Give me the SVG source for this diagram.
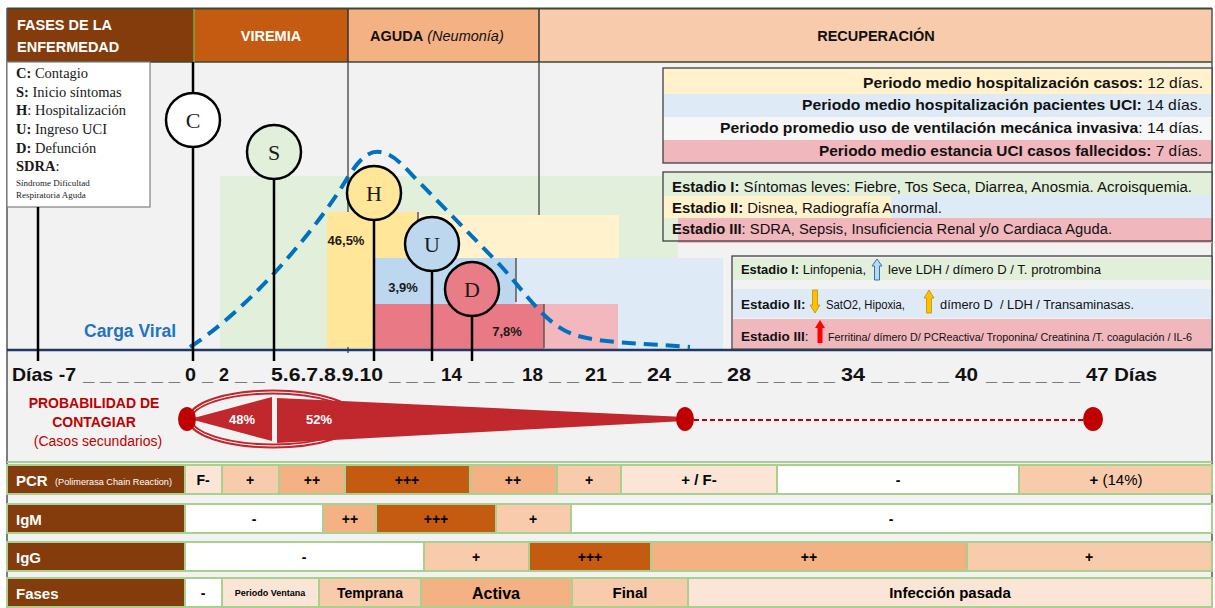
<svg xmlns="http://www.w3.org/2000/svg" width="1215" height="608" viewBox="0 0 1215 608">
<defs>
<style>
.t{font-family:"Liberation Sans",Arial,sans-serif}
.b{font-weight:bold}
.sf{font-family:"Liberation Serif","Times New Roman",serif}
.lab{fill:#843c0c}
.c1{fill:#fbe5d6}.c2{fill:#f8cbad}.c3{fill:#f4b183}.c4{fill:#c55a11}.cw{fill:#ffffff}
.cell{stroke:#a9d18e;stroke-width:2}
.ct{font-family:"Liberation Sans",Arial,sans-serif;font-weight:bold;text-anchor:middle;fill:#000}
.lt{font-family:"Liberation Sans",Arial,sans-serif;font-weight:bold;font-size:15px;fill:#fff}
.node{stroke:#000;stroke-width:2.5}
.nl{font-family:"Liberation Serif","Times New Roman",serif;font-size:22px;text-anchor:middle;fill:#1a1a1a}
.vl{stroke:#000;stroke-width:2.5}
.gl{stroke:#595959;stroke-width:1.5}
.ax{font-family:"Liberation Sans",Arial,sans-serif;font-weight:bold;font-size:19px;fill:#111}
.hb{stroke:#404040;stroke-width:1.3;fill:none}
.red{fill:#c00000}
</style>
</defs>
<rect x="0" y="0" width="1215" height="608" fill="#ffffff"/>
<rect x="7" y="8" width="1205" height="600" fill="#f2f2f2"/>

<!-- header -->
<g id="header">
<rect x="7" y="9" width="187" height="53" fill="#843c0c"/>
<rect x="194" y="9" width="154" height="53" fill="#c55a11"/>
<rect x="348" y="9" width="191" height="53" fill="#f4b183"/>
<rect x="539" y="9" width="673" height="53" fill="#f8cbad"/>
<line x1="7" y1="8.5" x2="1212" y2="8.5" stroke="#3a4a30" stroke-width="2"/>
<line x1="7" y1="62" x2="1212" y2="62" stroke="#3a4a30" stroke-width="1.5"/>
<line x1="194" y1="9" x2="194" y2="62" stroke="#70ad47" stroke-width="1.5"/>
<line x1="348" y1="9" x2="348" y2="62" stroke="#333" stroke-width="1.5"/>
<line x1="539" y1="9" x2="539" y2="62" stroke="#333" stroke-width="1.5"/>
<text class="t b" x="17" y="30" font-size="14.5" fill="#fff">FASES DE LA</text>
<text class="t b" x="17" y="52" font-size="14.5" fill="#fff">ENFERMEDAD</text>
<text class="t b" x="271" y="41" font-size="14.5" fill="#fff" text-anchor="middle">VIREMIA</text>
<text class="t" x="370" y="41" font-size="14.5" fill="#111"><tspan font-weight="bold">AGUDA</tspan> <tspan font-style="italic">(Neumonía)</tspan></text>
<text class="t b" x="876" y="41" font-size="14.5" fill="#111" text-anchor="middle">RECUPERACIÓN</text>
</g>
<line x1="7" y1="8" x2="7" y2="608" stroke="#555" stroke-width="1.5"/>
<line x1="1212" y1="8" x2="1212" y2="608" stroke="#555" stroke-width="1.5"/>

<!-- legend -->
<g id="legend">
<rect x="7" y="62" width="143" height="145" fill="#ffffff" stroke="#7f7f7f" stroke-width="1.2"/>
<g class="sf" font-size="14.5" fill="#1a1a1a">
<text x="16" y="78"><tspan font-weight="bold">C:</tspan> Contagio</text>
<text x="16" y="97"><tspan font-weight="bold">S:</tspan> Inicio síntomas</text>
<text x="16" y="115"><tspan font-weight="bold">H</tspan>: Hospitalización</text>
<text x="16" y="134"><tspan font-weight="bold">U:</tspan> Ingreso UCI</text>
<text x="16" y="153"><tspan font-weight="bold">D:</tspan> Defunción</text>
<text x="16" y="171"><tspan font-weight="bold">SDRA</tspan>:</text>
<text x="16" y="186" font-size="9">Síndrome Dificultad</text>
<text x="16" y="198" font-size="9">Respiratoria Aguda</text>
</g>
</g>

<!-- phase regions -->
<g id="regions">
<rect x="220" y="176" width="458" height="174" fill="#e2efda"/>
<rect x="516" y="258" width="207" height="92" fill="#deebf7"/>
<rect x="418" y="215" width="201" height="43" fill="#fff2cc"/>
<rect x="327" y="212" width="91" height="46" fill="#ffe699"/>
<rect x="327" y="258" width="48" height="90" fill="#ffe699"/>
<rect x="375" y="258" width="141" height="46" fill="#bdd7ee"/>
<rect x="375" y="304" width="169" height="46" fill="#e97a85"/>
<rect x="544" y="304" width="74" height="45" fill="#f2b8bd"/>
<line class="gl" x1="348" y1="62" x2="348" y2="212"/>
<line class="gl" x1="348" y1="347" x2="348" y2="353"/>
<line class="gl" x1="539" y1="62" x2="539" y2="215"/>
<line class="gl" x1="418" y1="212" x2="418" y2="230"/>
<line class="gl" x1="516" y1="258" x2="516" y2="302"/>
<line class="gl" x1="544" y1="304" x2="544" y2="348"/>
<text class="t b" x="346" y="245" font-size="13" text-anchor="middle" fill="#1a1a1a">46,5%</text>
<text class="t b" x="403" y="292" font-size="13" text-anchor="middle" fill="#1a1a1a">3,9%</text>
<text class="t b" x="507" y="336" font-size="13" text-anchor="middle" fill="#1a1a1a">7,8%</text>
</g>

<!-- viral load curve -->
<g id="curve">
<path d="M190,347 C240,315 300,250 340,190 C355,165 365,150 380,152 C395,154 405,168 420,183 L500,265 C525,292 545,325 575,335 C600,343 640,343 690,347" fill="none" stroke="#0070c0" stroke-width="4" stroke-dasharray="14 8"/>
<text class="t b" x="84" y="337" font-size="17.5" fill="#1f74c2">Carga Viral</text>
</g>

<!-- axis line -->
<line x1="7" y1="350" x2="1212" y2="350" stroke="#1f3864" stroke-width="2.5"/>

<!-- connectors -->
<g id="connectors">
<line class="vl" x1="38" y1="207" x2="38" y2="361"/>
<line class="vl" x1="193" y1="62" x2="193" y2="361"/>
<line class="vl" x1="274" y1="179" x2="274" y2="361"/>
<line class="vl" x1="374" y1="220" x2="374" y2="361"/>
<line class="vl" x1="432" y1="271" x2="432" y2="361"/>
<line class="vl" x1="472" y1="316" x2="472" y2="361"/>
</g>

<!-- nodes -->
<g id="node-C"><circle class="node" cx="193" cy="120" r="27" fill="#ffffff"/><text class="nl" x="193" y="128">C</text></g>
<g id="node-S"><circle class="node" cx="274" cy="152" r="27" fill="#e2efda"/><text class="nl" x="274" y="160">S</text></g>
<g id="node-H"><circle class="node" cx="374" cy="193" r="27" fill="#ffe699"/><text class="nl" x="374" y="201">H</text></g>
<g id="node-U"><circle class="node" cx="432" cy="244" r="27" fill="#bdd7ee"/><text class="nl" x="432" y="252">U</text></g>
<g id="node-D"><circle class="node" cx="472" cy="289" r="27" fill="#e97d87"/><text class="nl" x="472" y="297">D</text></g>

<!-- box periods -->
<g id="box-periodos">
<rect x="663" y="68" width="549" height="26" fill="#fff2cc"/>
<rect x="663" y="94" width="549" height="23" fill="#deebf7"/>
<rect x="663" y="117" width="549" height="23" fill="#f7f7f7"/>
<rect x="663" y="140" width="549" height="23" fill="#f0b7bd"/>
<rect class="hb" x="663" y="68" width="549" height="95"/>
<g class="t" font-size="15" fill="#111">
<text x="863" y="88" textLength="340" lengthAdjust="spacingAndGlyphs"><tspan font-weight="bold">Periodo medio hospitalización casos:</tspan> 12 días.</text>
<text x="802" y="110" textLength="400" lengthAdjust="spacingAndGlyphs"><tspan font-weight="bold">Periodo medio hospitalización pacientes UCI:</tspan> 14 días.</text>
<text x="720" y="133" textLength="483" lengthAdjust="spacingAndGlyphs"><tspan font-weight="bold">Periodo promedio uso de ventilación mecánica invasiva</tspan>: 14 días.</text>
<text x="819" y="156" textLength="383" lengthAdjust="spacingAndGlyphs"><tspan font-weight="bold">Periodo medio estancia UCI casos fallecidos:</tspan> 7 días.</text>
</g>
</g>

<!-- box estadios clinicos -->
<g id="box-estadios">
<rect x="663" y="172" width="549" height="70" fill="#e2efda"/>
<rect x="663" y="196" width="228" height="22" fill="#fff2cc"/>
<rect x="891" y="195" width="321" height="23" fill="#deebf7"/>
<rect x="678" y="218" width="534" height="25" fill="#f0b7bd"/>
<rect class="hb" x="663" y="172" width="549" height="69"/>
<g class="t" font-size="14" fill="#111">
<text x="672" y="192" textLength="520" lengthAdjust="spacingAndGlyphs"><tspan font-weight="bold">Estadio I:</tspan> Síntomas leves: Fiebre, Tos Seca, Diarrea, Anosmia. Acroisquemia.</text>
<text x="672" y="213" textLength="270" lengthAdjust="spacingAndGlyphs"><tspan font-weight="bold">Estadio II:</tspan> Disnea, Radiografía Anormal.</text>
<text x="672" y="234" textLength="440" lengthAdjust="spacingAndGlyphs"><tspan font-weight="bold">Estadio III</tspan>: SDRA, Sepsis, Insuficiencia Renal y/o Cardiaca Aguda.</text>
</g>
</g>

<!-- box estadios laboratorio -->
<g id="box-laboratorio">
<rect x="732" y="256" width="480" height="93" fill="#f2f2f2"/>
<rect x="733" y="258" width="478" height="22" fill="#e2efda"/>
<rect x="733" y="289" width="478" height="29" fill="#deebf7"/>
<rect x="733" y="319" width="478" height="29" fill="#f0b7bd"/>
<rect class="hb" x="732" y="256" width="480" height="93"/>
<g class="t" fill="#111">
<text x="741" y="274" font-size="13" textLength="125" lengthAdjust="spacingAndGlyphs"><tspan font-weight="bold">Estadio I:</tspan> Linfopenia,</text>
<text x="888" y="274" font-size="13" textLength="213" lengthAdjust="spacingAndGlyphs">leve LDH / dímero D / T. protrombina</text>
<text x="741" y="309" font-size="13.5" font-weight="bold">Estadio II:</text>
<text x="826" y="309" font-size="12" textLength="79" lengthAdjust="spacingAndGlyphs">SatO2, Hipoxia,</text>
<text x="940" y="309" font-size="12" textLength="194" lengthAdjust="spacingAndGlyphs" xml:space="preserve">dímero D  / LDH / Transaminasas.</text>
<text x="741" y="341" font-size="13.5"><tspan font-weight="bold">Estadio III</tspan>:</text>
<text x="828" y="341" font-size="10" textLength="364" lengthAdjust="spacingAndGlyphs">Ferritina/ dímero D/ PCReactiva/ Troponina/ Creatinina /T. coagulación / IL-6</text>
</g>
<path d="M877,259 L882,266 L879.5,266 L879.5,280 L874.5,280 L874.5,266 L872,266 Z" fill="#bdd7ee" stroke="#2e75b6" stroke-width="1"/>
<path d="M815,313 L820,305 L817.5,305 L817.5,290 L812.5,290 L812.5,305 L810,305 Z" fill="#ffc000" stroke="#bf9000" stroke-width="0.8"/>
<path d="M929,290 L934,298 L931.5,298 L931.5,313 L926.5,313 L926.5,298 L924,298 Z" fill="#ffc000" stroke="#bf9000" stroke-width="0.8"/>
<path d="M820,320 L825,328 L822.5,328 L822.5,343 L817.5,343 L817.5,328 L815,328 Z" fill="#ff0000"/>
</g>

<!-- axis labels -->
<g id="axis-labels" class="ax">
<text x="12" y="381" textLength="64" lengthAdjust="spacingAndGlyphs">Días -7</text>
<text x="83" y="381" textLength="97" lengthAdjust="spacingAndGlyphs">_ _ _ _ _ _</text>
<text x="185" y="381" textLength="11" lengthAdjust="spacingAndGlyphs">0</text>
<text x="202" y="381" textLength="11" lengthAdjust="spacingAndGlyphs">_</text>
<text x="219" y="381" textLength="10" lengthAdjust="spacingAndGlyphs">2</text>
<text x="235" y="381" textLength="30" lengthAdjust="spacingAndGlyphs">_ _</text>
<text x="271" y="381" textLength="112" lengthAdjust="spacingAndGlyphs">5.6.7.8.9.10</text>
<text x="389" y="381" textLength="46" lengthAdjust="spacingAndGlyphs">_ _ _</text>
<text x="441" y="381" textLength="21" lengthAdjust="spacingAndGlyphs">14</text>
<text x="468" y="381" textLength="46" lengthAdjust="spacingAndGlyphs">_ _ _</text>
<text x="522" y="381" textLength="21" lengthAdjust="spacingAndGlyphs">18</text>
<text x="549" y="381" textLength="30" lengthAdjust="spacingAndGlyphs">_ _</text>
<text x="585" y="381" textLength="22" lengthAdjust="spacingAndGlyphs">21</text>
<text x="612" y="381" textLength="29" lengthAdjust="spacingAndGlyphs">_ _</text>
<text x="647" y="381" textLength="24" lengthAdjust="spacingAndGlyphs">24</text>
<text x="676" y="381" textLength="46" lengthAdjust="spacingAndGlyphs">_ _ _</text>
<text x="727" y="381" textLength="24" lengthAdjust="spacingAndGlyphs">28</text>
<text x="757" y="381" textLength="78" lengthAdjust="spacingAndGlyphs">_ _ _ _ _</text>
<text x="841" y="381" textLength="24" lengthAdjust="spacingAndGlyphs">34</text>
<text x="871" y="381" textLength="78" lengthAdjust="spacingAndGlyphs">_ _ _ _ _</text>
<text x="955" y="381" textLength="23" lengthAdjust="spacingAndGlyphs">40</text>
<text x="986" y="381" textLength="94" lengthAdjust="spacingAndGlyphs">_ _ _ _ _ _</text>
<text x="1086" y="381" textLength="71" lengthAdjust="spacingAndGlyphs">47 Días</text>
</g>

<!-- probability -->
<g id="probabilidad">
<text class="t b" x="94" y="408" font-size="14" fill="#c00000" text-anchor="middle">PROBABILIDAD DE</text>
<text class="t b" x="94" y="427" font-size="14" fill="#c00000" text-anchor="middle">CONTAGIAR</text>
<text class="t" x="98" y="446" font-size="14" fill="#c00000" text-anchor="middle">(Casos secundarios)</text>
<ellipse cx="273" cy="419" rx="83" ry="27" fill="none" stroke="#c0282d" stroke-width="5"/>
<ellipse cx="273" cy="419" rx="83" ry="27" fill="none" stroke="#ffffff" stroke-width="1"/>
<polygon points="190,419 272,397 272,441" fill="#c0282d"/>
<polygon points="277,398 685,417 685,421 277,443" fill="#c0282d"/>
<line x1="694" y1="420" x2="1084" y2="420" stroke="#c00000" stroke-width="2" stroke-dasharray="5 3"/>
<ellipse class="red" cx="187" cy="419" rx="9" ry="12"/>
<ellipse class="red" cx="685" cy="419" rx="9" ry="12"/>
<ellipse class="red" cx="1093" cy="419" rx="10" ry="12"/>
<text class="t b" x="242" y="424" font-size="13" fill="#fff" text-anchor="middle">48%</text>
<text class="t b" x="319" y="424" font-size="13" fill="#fff" text-anchor="middle">52%</text>
</g>
<line x1="7" y1="462" x2="1212" y2="462" stroke="#a9d18e" stroke-width="2"/>

<!-- PCR row -->
<g id="row-pcr">
<rect class="lab cell" x="7" y="465" width="178" height="29"/>
<text class="lt" x="16" y="486">PCR</text>
<text class="t" x="55" y="485" font-size="9" fill="#fff" textLength="117" lengthAdjust="spacingAndGlyphs">(Polimerasa Chain Reaction)</text>
<rect class="c1 cell" x="185" y="465" width="37" height="29"/><text class="ct" style="font-size:14px" x="203" y="485">F-</text>
<rect class="c2 cell" x="222" y="465" width="57" height="29"/><text class="ct" style="font-size:14px" x="250" y="485">+</text>
<rect class="c3 cell" x="279" y="465" width="66" height="29"/><text class="ct" style="font-size:14px" x="312" y="485">++</text>
<rect class="c4 cell" x="345" y="465" width="125" height="29"/><text class="ct" style="font-size:14px" x="407" y="485">+++</text>
<rect class="c3 cell" x="470" y="465" width="87" height="29"/><text class="ct" style="font-size:14px" x="513" y="485">++</text>
<rect class="c2 cell" x="557" y="465" width="64" height="29"/><text class="ct" style="font-size:14px" x="589" y="485">+</text>
<rect class="c1 cell" x="621" y="465" width="156" height="29"/><text class="ct" style="font-size:15px" x="699" y="485">+ / F-</text>
<rect class="cw cell" x="777" y="465" width="242" height="29"/><text class="ct" style="font-size:14px" x="898" y="485">-</text>
<rect class="c2 cell" x="1019" y="465" width="193" height="29"/><text class="ct" style="font-size:15px" x="1116" y="485">+ <tspan font-weight="normal">(14%)</tspan></text>
</g>

<!-- IgM row -->
<g id="row-igm">
<rect class="lab cell" x="7" y="504" width="178" height="29"/>
<text class="lt" x="16" y="525">IgM</text>
<rect class="cw cell" x="185" y="504" width="138" height="29"/><text class="ct" style="font-size:14px" x="254" y="524">-</text>
<rect class="c3 cell" x="323" y="504" width="53" height="29"/><text class="ct" style="font-size:14px" x="350" y="524">++</text>
<rect class="c4 cell" x="376" y="504" width="120" height="29"/><text class="ct" style="font-size:14px" x="436" y="524">+++</text>
<rect class="c2 cell" x="496" y="504" width="75" height="29"/><text class="ct" style="font-size:14px" x="533" y="524">+</text>
<rect class="cw cell" x="571" y="504" width="641" height="29"/><text class="ct" style="font-size:14px" x="891" y="524">-</text>
</g>

<!-- IgG row -->
<g id="row-igg">
<rect class="lab cell" x="7" y="542" width="178" height="29"/>
<text class="lt" x="16" y="563">IgG</text>
<rect class="cw cell" x="185" y="542" width="239" height="29"/><text class="ct" style="font-size:14px" x="304" y="562">-</text>
<rect class="c2 cell" x="424" y="542" width="105" height="29"/><text class="ct" style="font-size:14px" x="476" y="562">+</text>
<rect class="c4 cell" x="529" y="542" width="122" height="29"/><text class="ct" style="font-size:14px" x="590" y="562">+++</text>
<rect class="c3 cell" x="651" y="542" width="316" height="29"/><text class="ct" style="font-size:14px" x="809" y="562">++</text>
<rect class="c2 cell" x="967" y="542" width="245" height="29"/><text class="ct" style="font-size:14px" x="1089" y="562">+</text>
</g>

<!-- Fases row -->
<g id="row-fases">
<rect class="lab cell" x="7" y="578" width="178" height="29"/>
<text class="lt" x="16" y="599">Fases</text>
<rect class="cw cell" x="185" y="578" width="37" height="29"/><text class="ct" style="font-size:14px" x="203" y="598">-</text>
<rect class="c1 cell" x="222" y="578" width="97" height="29"/><text class="ct" style="font-size:9px" x="270" y="596">Periodo Ventana</text>
<rect class="c2 cell" x="319" y="578" width="102" height="29"/><text class="ct" style="font-size:14px" x="370" y="598">Temprana</text>
<rect class="c3 cell" x="421" y="578" width="151" height="29"/><text class="ct" style="font-size:16px" x="496" y="599">Activa</text>
<rect class="c2 cell" x="572" y="578" width="116" height="29"/><text class="ct" style="font-size:15px" x="630" y="598">Final</text>
<rect class="c1 cell" x="688" y="578" width="524" height="29"/><text class="ct" style="font-size:15px" x="950" y="598">Infección pasada</text>
</g>
</svg>
